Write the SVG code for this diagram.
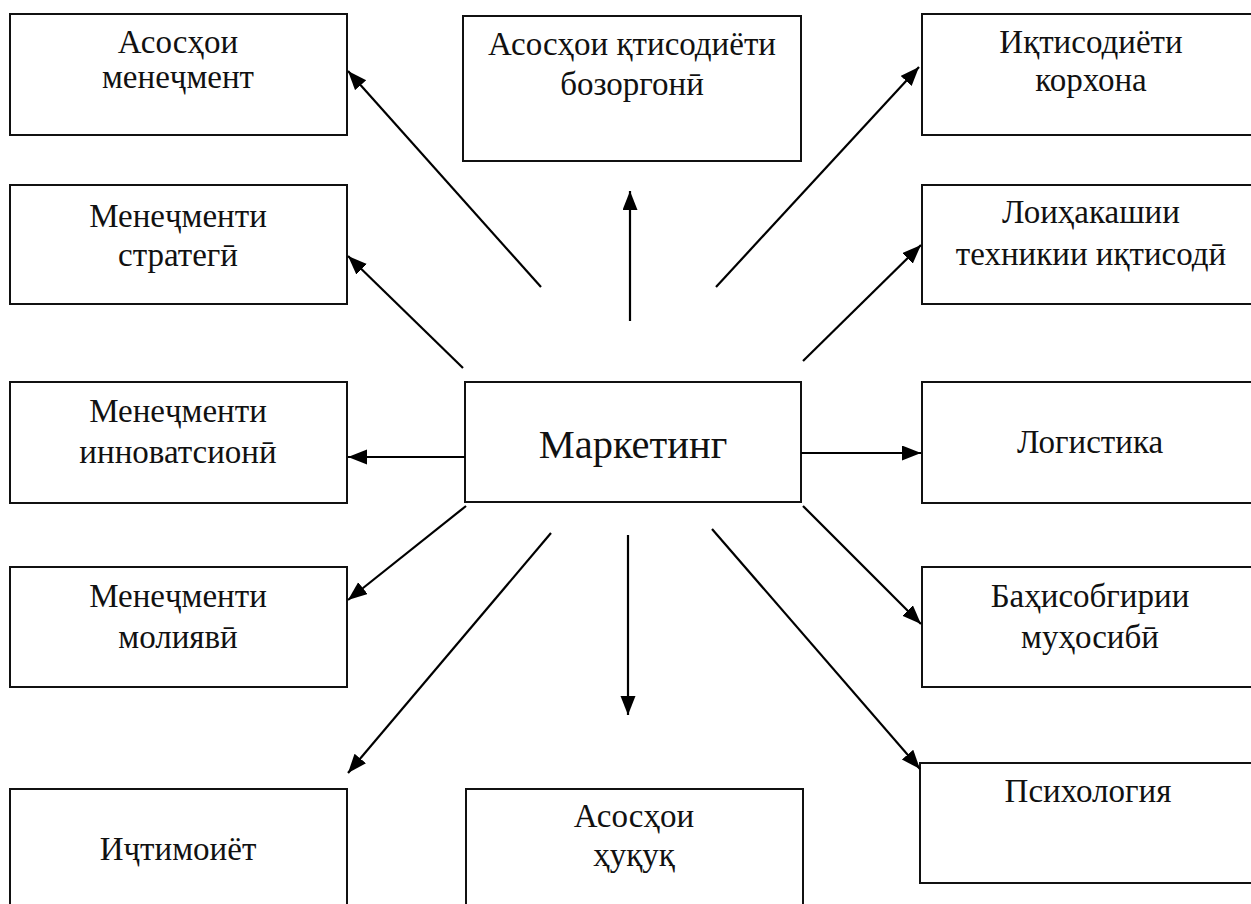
<svg xmlns="http://www.w3.org/2000/svg" width="1251" height="904" viewBox="0 0 1251 904">
<style>
.box{fill:#fff;stroke:#111;stroke-width:2}
.t{font-family:"Liberation Serif","DejaVu Serif",serif;font-size:33px;fill:#111;text-anchor:middle}
.big{font-size:40.5px}
.c{stroke:#000;stroke-width:2.2;fill:none;marker-end:url(#ah)}
</style>
<defs>
<marker id="ah" markerUnits="userSpaceOnUse" markerWidth="20" markerHeight="16" refX="19" refY="7.5" orient="auto">
<path d="M0,0 L19,7.5 L0,15 z" fill="#000"/>
</marker>
</defs>
<rect width="1251" height="904" fill="#fff"/>
<g id="n-asos-menej"><rect class="box" x="10" y="14" width="337" height="121"/><text class="t" x="178" y="53">Асосҳои</text><text class="t" x="178" y="88">менеҷмент</text></g>
<g id="n-strateg"><rect class="box" x="10" y="185" width="337" height="119"/><text class="t" x="178" y="227">Менеҷменти</text><text class="t" x="178" y="266">стратегӣ</text></g>
<g id="n-innov"><rect class="box" x="10" y="382" width="337" height="121"/><text class="t" x="178" y="422">Менеҷменти</text><text class="t" x="178" y="463">инноватсионӣ</text></g>
<g id="n-moliyavi"><rect class="box" x="10" y="567" width="337" height="120"/><text class="t" x="178" y="607">Менеҷменти</text><text class="t" x="178" y="648">молиявӣ</text></g>
<g id="n-ijtimoiyot"><rect class="box" x="10" y="789" width="337" height="140"/><text class="t" x="178" y="860">Иҷтимоиёт</text></g>
<g id="n-iqtisod-bozor"><rect class="box" x="463" y="16" width="338" height="145"/><text class="t" x="632" y="55">Асосҳои қтисодиёти</text><text class="t" x="632" y="95">бозоргонӣ</text></g>
<g id="n-marketing"><rect class="box" x="465" y="382" width="336" height="120"/><text class="t big" x="633" y="458">Маркетинг</text></g>
<g id="n-huquq"><rect class="box" x="466" y="789" width="337" height="140"/><text class="t" x="634" y="827">Асосҳои</text><text class="t" x="634" y="866">ҳуқуқ</text></g>
<g id="n-korhona"><rect class="box" x="922" y="14" width="338" height="121"/><text class="t" x="1091" y="53">Иқтисодиёти</text><text class="t" x="1091" y="91">корхона</text></g>
<g id="n-loihakashi"><rect class="box" x="922" y="185" width="338" height="119"/><text class="t" x="1091" y="223">Лоиҳакашии</text><text class="t" x="1091" y="265">техникии иқтисодӣ</text></g>
<g id="n-logistika"><rect class="box" x="922" y="382" width="338" height="121"/><text class="t" x="1090" y="453">Логистика</text></g>
<g id="n-bahisob"><rect class="box" x="922" y="567" width="338" height="120"/><text class="t" x="1090" y="607">Баҳисобгирии</text><text class="t" x="1090" y="648">муҳосибӣ</text></g>
<g id="n-psih"><rect class="box" x="920" y="763" width="338" height="120"/><text class="t" x="1088" y="802">Психология</text></g>
<g id="connectors">
<line class="c" x1="541" y1="287" x2="348" y2="71"/>
<line class="c" x1="463" y1="368" x2="348" y2="256"/>
<line class="c" x1="630" y1="321" x2="630" y2="191"/>
<line class="c" x1="716" y1="287" x2="919" y2="67"/>
<line class="c" x1="803" y1="361" x2="921" y2="245"/>
<line class="c" x1="465" y1="457" x2="348" y2="457"/>
<line class="c" x1="801" y1="453" x2="921" y2="453"/>
<line class="c" x1="466" y1="506" x2="348" y2="600"/>
<line class="c" x1="551" y1="533" x2="348" y2="773"/>
<line class="c" x1="628" y1="535" x2="628" y2="715"/>
<line class="c" x1="712" y1="529" x2="920" y2="769"/>
<line class="c" x1="803" y1="506" x2="921" y2="624"/>
</g>
</svg>
